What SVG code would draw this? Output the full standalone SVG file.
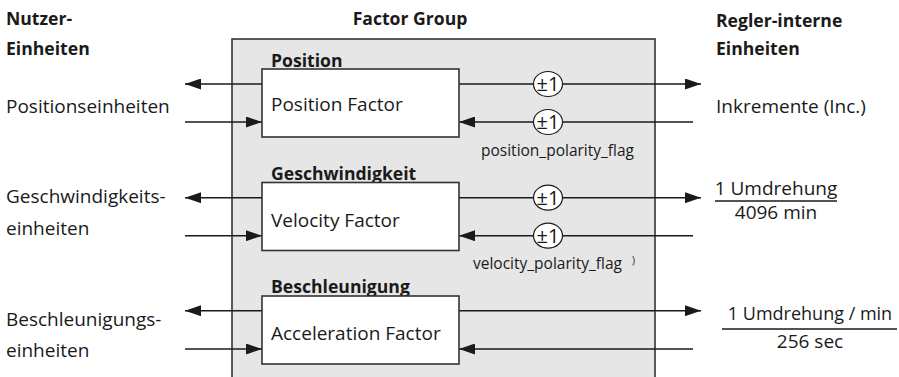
<svg xmlns="http://www.w3.org/2000/svg" width="899" height="377" viewBox="0 0 899 377">
<style>
text{font-family:"Open Sans","Noto Sans","DejaVu Sans",sans-serif;fill:#1a1a1a}
.t{font-size:19px}
.b{font-size:17.6px;font-weight:bold}
.s{font-size:15.5px}
.c{font-size:20px}
.ln{stroke:#1a1a1a;stroke-width:1.4;fill:none}
.box{fill:#fff;stroke:#333;stroke-width:1.6}
.pm{fill:#fff;stroke:#1a1a1a;stroke-width:1.2}
</style>
<defs>
<marker id="ah" viewBox="0 0 16 11" refX="16" refY="5.5" markerWidth="16" markerHeight="11" markerUnits="userSpaceOnUse" orient="auto">
<path d="M0,0 L16,5.5 L0,11 Z" fill="#1a1a1a"/>
</marker>
</defs>
<rect x="232" y="39" width="423" height="360" fill="#e6e6e6" stroke="#333" stroke-width="1.6"/>
<g id="headers">
<text class="b" x="6" y="25">Nutzer-</text>
<text class="b" x="6" y="55">Einheiten</text>
<text class="b" x="410" y="25" text-anchor="middle">Factor Group</text>
<text class="b" x="716" y="27">Regler-interne</text>
<text class="b" x="716" y="55">Einheiten</text>
</g>
<g id="connectors">
<path class="ln" d="M262,84 H185" marker-end="url(#ah)"/>
<path class="ln" d="M185,122 H262" marker-end="url(#ah)"/>
<path class="ln" d="M262,197.7 H185" marker-end="url(#ah)"/>
<path class="ln" d="M185,235.7 H262" marker-end="url(#ah)"/>
<path class="ln" d="M262,310.7 H185" marker-end="url(#ah)"/>
<path class="ln" d="M185,349 H262" marker-end="url(#ah)"/>
<path class="ln" d="M459,84 H701" marker-end="url(#ah)"/>
<path class="ln" d="M693,122 H459" marker-end="url(#ah)"/>
<path class="ln" d="M459,197.7 H701" marker-end="url(#ah)"/>
<path class="ln" d="M693,235.7 H459" marker-end="url(#ah)"/>
<path class="ln" d="M459,310.7 H701" marker-end="url(#ah)"/>
<path class="ln" d="M693,349 H459" marker-end="url(#ah)"/>
</g>
<g id="position">
<text class="b" x="271" y="67">Position</text>
<rect class="box" x="262" y="69" width="197" height="68"/>
<text class="t" x="271" y="111">Position Factor</text>
</g>
<g id="velocity">
<text class="b" x="271" y="180">Geschwindigkeit</text>
<rect class="box" x="262" y="182.5" width="197" height="68"/>
<text class="t" x="271" y="226.5">Velocity Factor</text>
</g>
<g id="acceleration">
<text class="b" x="271" y="293">Beschleunigung</text>
<rect class="box" x="262" y="296" width="197" height="68"/>
<text class="t" x="271" y="340">Acceleration Factor</text>
</g>
<g id="pos-polarity">
<ellipse class="pm" cx="548" cy="84" rx="14.5" ry="12.5"/>
<text class="c" x="548" y="91" text-anchor="middle">±1</text>
<ellipse class="pm" cx="548" cy="122" rx="14.5" ry="12.5"/>
<text class="c" x="548" y="129" text-anchor="middle">±1</text>
<text class="s" x="481" y="156">position_polarity_flag</text>
</g>
<g id="vel-polarity">
<ellipse class="pm" cx="548" cy="197.7" rx="14.5" ry="12.5"/>
<text class="c" x="548" y="204.7" text-anchor="middle">±1</text>
<ellipse class="pm" cx="548" cy="235.7" rx="14.5" ry="12.5"/>
<text class="c" x="548" y="242.7" text-anchor="middle">±1</text>
<text class="s" x="473" y="269">velocity_polarity_flag</text>
<text x="632" y="264" style="font-size:10px">)</text>
</g>
<g id="user-units">
<text class="t" x="6" y="113">Positionseinheiten</text>
<text class="t" x="6" y="203">Geschwindigkeits-</text>
<text class="t" x="6" y="235">einheiten</text>
<text class="t" x="6" y="326">Beschleunigungs-</text>
<text class="t" x="6" y="357">einheiten</text>
</g>
<g id="internal-units">
<text class="t" x="716" y="113">Inkremente (Inc.)</text>
<text class="t" x="776" y="195" text-anchor="middle">1 Umdrehung</text>
<line class="ln" x1="715" y1="201" x2="837" y2="201"/>
<text class="t" x="776" y="219" text-anchor="middle">4096 min</text>
<text class="t" x="810" y="320" text-anchor="middle" style="font-size:18px">1 Umdrehung / min</text>
<line class="ln" x1="722" y1="329" x2="897" y2="329"/>
<text class="t" x="810" y="348" text-anchor="middle">256 sec</text>
</g>
</svg>
